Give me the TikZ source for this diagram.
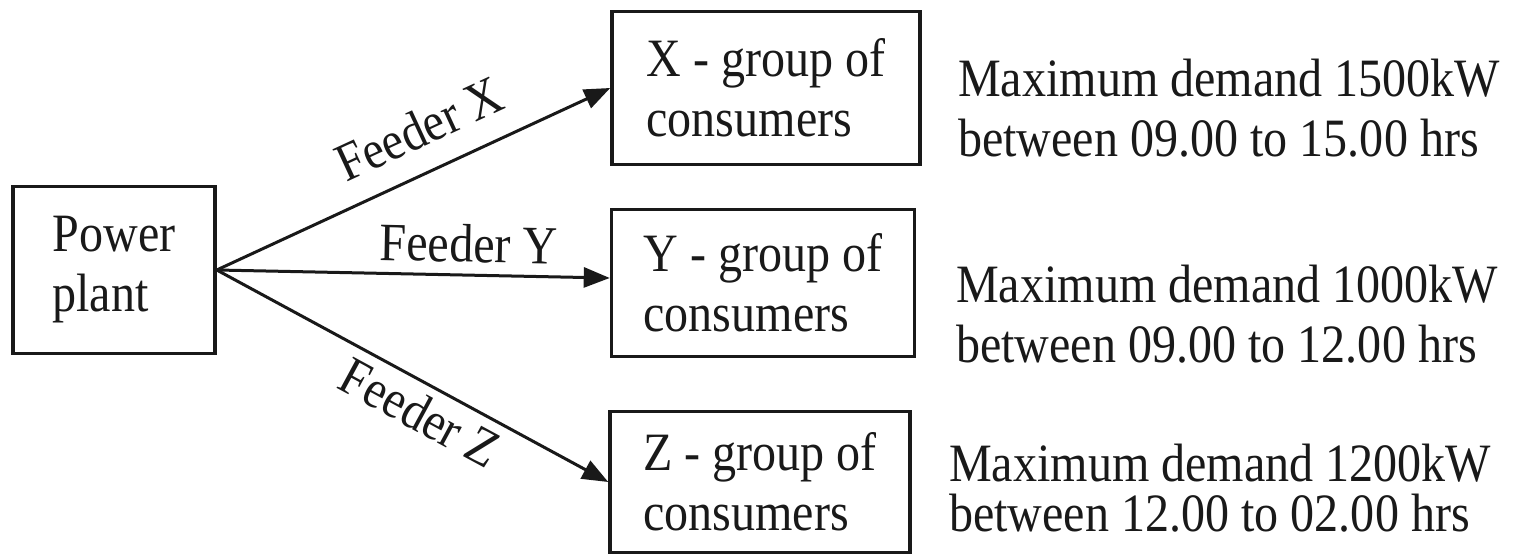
\documentclass[tikz,border=0pt]{standalone}
\usepackage{fontspec}
\setmainfont{Liberation Serif}[FakeStretch=0.89]
\usetikzlibrary{arrows.meta}
\begin{document}
\begin{tikzpicture}[x=1pt,y=-1pt,
  every node/.style={font=\fontsize{54}{60}\selectfont, text=black!90},
  blockbox/.style={draw=black!90, line width=3.5pt, inner sep=0pt, align=left},
  feed/.style={draw=black!90, line width=3pt, -{Triangle[length=26pt,width=20pt]}},
  feedlabel/.style={sloped, inner sep=3pt},
  note/.style={anchor=west, align=left, inner sep=0pt}
]
\useasboundingbox (0,0) rectangle (1519,556);
\node[blockbox, minimum width=202pt, minimum height=167pt] (pp) at (114,270) {Power\\plant};
\node[blockbox, minimum width=308pt, minimum height=153pt] (bx) at (766,88) {X - group of\\consumers};
\node[blockbox, minimum width=303pt, minimum height=147pt] (by) at (763,283) {Y - group of\\consumers};
\node[blockbox, minimum width=300pt, minimum height=141pt] (bz) at (760,482) {Z - group of\\consumers};
\draw[feed] (pp.east) -- node[feedlabel, pos=0.56, above=20pt] {Feeder X} (bx.west);
\draw[feed] (pp.east) -- node[feedlabel, pos=0.64, above=8pt] {Feeder Y} ([yshift=5pt]by.west);
\draw[feed] (pp.east) -- node[feedlabel, pos=0.555, below=5pt] {Feeder Z} (bz.west);
\node[note] (nx) at (958,108) {Maximum demand 1500kW\\between 09.00 to 15.00 hrs};
\node[note] (ny) at (956,314) {Maximum demand 1000kW\\between 09.00 to 12.00 hrs};
\node[note, font=\fontsize{54}{50}\selectfont] (nz) at (949,488) {Maximum demand 1200kW\\between 12.00 to 02.00 hrs};
\end{tikzpicture}
\end{document}
